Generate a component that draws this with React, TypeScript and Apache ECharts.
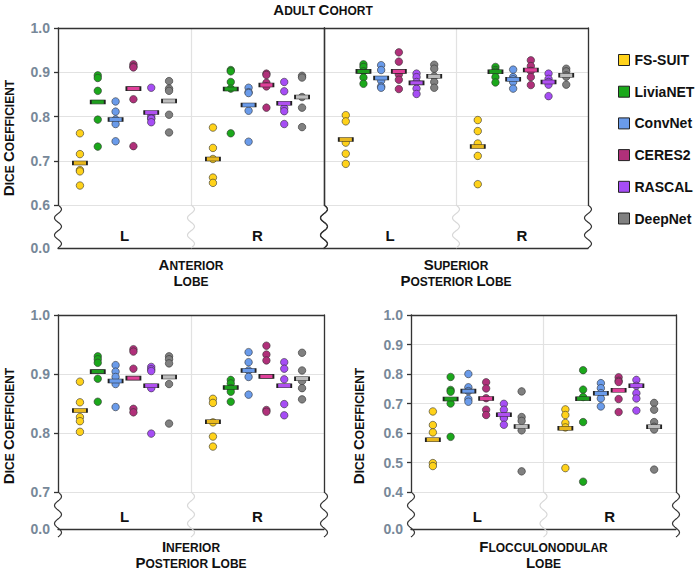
import React, { useEffect, useRef } from 'react';
import * as echarts from 'echarts';

const methods = ['FS-SUIT', 'LiviaNET', 'ConvNet', 'CERES2', 'RASCAL', 'DeepNet'];
const sides = ['L', 'R'];
const pointColors = ['#FFD21A', '#1BA81B', '#6A9BEA', '#B0307A', '#A64DF5', '#808080'];
const meanColors = ['#E8B820', '#1E9E1E', '#6A9BEA', '#E0409A', '#B050F0', '#BDBDBD'];

// Anterior Lobe
const anteriorL = [
  [0.762, 0.715, 0.679, 0.676, 0.644],
  [0.893, 0.887, 0.858, 0.793, 0.732],
  [0.834, 0.811, 0.793, 0.783, 0.744],
  [0.918, 0.913, 0.911, 0.839, 0.733],
  [0.865, 0.802, 0.796, 0.795, 0.787],
  [0.880, 0.863, 0.858, 0.804, 0.764],
];
const anteriorLMean = [0.695, 0.833, 0.793, 0.863, 0.809, 0.835];
const anteriorR = [
  [0.775, 0.729, 0.704, 0.662, 0.650],
  [0.905, 0.902, 0.878, 0.863, 0.762],
  [0.865, 0.855, 0.853, 0.813, 0.743],
  [0.897, 0.894, 0.876, 0.868, 0.820],
  [0.878, 0.857, 0.819, 0.812, 0.783],
  [0.892, 0.888, 0.844, 0.820, 0.776],
];
const anteriorRMean = [0.704, 0.862, 0.826, 0.871, 0.830, 0.844];

// Superior Posterior Lobe
const superiorL = [
  [0.803, 0.789, 0.741, 0.716, 0.693],
  [0.918, 0.912, 0.902, 0.888, 0.874],
  [0.916, 0.905, 0.881, 0.868, 0.865],
  [0.945, 0.924, 0.895, 0.883, 0.862],
  [0.897, 0.889, 0.878, 0.863, 0.851],
  [0.917, 0.908, 0.891, 0.878, 0.865],
];
const superiorLMean = [0.748, 0.902, 0.887, 0.902, 0.876, 0.891];
const superiorR = [
  [0.792, 0.767, 0.739, 0.711, 0.647],
  [0.912, 0.905, 0.901, 0.889, 0.877],
  [0.906, 0.889, 0.884, 0.878, 0.863],
  [0.927, 0.914, 0.903, 0.889, 0.871],
  [0.897, 0.885, 0.878, 0.872, 0.846],
  [0.908, 0.902, 0.893, 0.890, 0.872],
];
const superiorRMean = [0.732, 0.901, 0.884, 0.905, 0.878, 0.893];

// Inferior Posterior Lobe
const inferiorL = [
  [0.887, 0.852, 0.827, 0.820, 0.802],
  [0.930, 0.925, 0.919, 0.892, 0.853],
  [0.915, 0.904, 0.895, 0.883, 0.844],
  [0.942, 0.938, 0.909, 0.841, 0.835],
  [0.912, 0.908, 0.905, 0.876, 0.799],
  [0.930, 0.925, 0.918, 0.883, 0.816],
];
const inferiorLMean = [0.838, 0.904, 0.888, 0.893, 0.880, 0.895];
const inferiorR = [
  [0.858, 0.851, 0.818, 0.794, 0.777],
  [0.890, 0.884, 0.876, 0.870, 0.853],
  [0.937, 0.920, 0.906, 0.895, 0.865],
  [0.948, 0.933, 0.923, 0.839, 0.836],
  [0.920, 0.909, 0.891, 0.849, 0.830],
  [0.936, 0.906, 0.888, 0.876, 0.857],
];
const inferiorRMean = [0.819, 0.877, 0.906, 0.896, 0.880, 0.892];

// Flocculonodular Lobe
const flocL = [
  [0.673, 0.627, 0.602, 0.498, 0.488],
  [0.790, 0.746, 0.740, 0.700, 0.587],
  [0.800, 0.755, 0.742, 0.715, 0.706],
  [0.772, 0.751, 0.718, 0.679, 0.661],
  [0.699, 0.679, 0.654, 0.650, 0.628],
  [0.741, 0.654, 0.641, 0.609, 0.470],
];
const flocLMean = [0.577, 0.715, 0.742, 0.717, 0.662, 0.622];
const flocR = [
  [0.680, 0.661, 0.634, 0.619, 0.481],
  [0.813, 0.747, 0.722, 0.637, 0.435],
  [0.769, 0.752, 0.735, 0.717, 0.690],
  [0.789, 0.777, 0.773, 0.715, 0.671],
  [0.780, 0.760, 0.735, 0.717, 0.676],
  [0.702, 0.679, 0.637, 0.621, 0.612, 0.476],
];
const flocRMean = [0.616, 0.716, 0.735, 0.745, 0.760, 0.621];

const FONT = '"Liberation Sans", Arial, Helvetica, sans-serif';
const DARK = '#333';
const LIGHT = '#e2e2e2';
const TICK_COLOR = '#778899';

const panels = [
  { title: 'Anterior\nLobe', left: 58, right: 324, top: 28, brk: 205, bottom: 248, min: 0.6, showY: true, L: anteriorL, R: anteriorR, mL: anteriorLMean, mR: anteriorRMean },
  { title: 'Superior\nPosterior Lobe', left: 324, right: 588, top: 28, brk: 205, bottom: 248, min: 0.6, showY: false, L: superiorL, R: superiorR, mL: superiorLMean, mR: superiorRMean },
  { title: 'Inferior\nPosterior Lobe', left: 58, right: 324, top: 315, brk: 492, bottom: 537, min: 0.7, showY: true, L: inferiorL, R: inferiorR, mL: inferiorLMean, mR: inferiorRMean },
  { title: 'Flocculonodular\nLobe', left: 411, right: 676, top: 315, brk: 492, bottom: 537, min: 0.4, showY: true, L: flocL, R: flocR, mL: flocLMean, mR: flocRMean },
];

const smallCaps = (t: string) =>
  t
    .split('\n')
    .map((line) =>
      line
        .split(' ')
        .map((w) => `{b|${w[0].toUpperCase()}}{s|${w.slice(1).toUpperCase()}}`)
        .join('{s| }')
    )
    .join('\n');

const rich = {
  b: { fontSize: 15, fontWeight: 'bold', color: '#111', fontFamily: FONT, lineHeight: 16, verticalAlign: 'bottom' },
  s: { fontSize: 12, fontWeight: 'bold', color: '#111', fontFamily: FONT, lineHeight: 16, verticalAlign: 'bottom' },
};

const wave = (x: number, y0: number, y1: number) => {
  const pts: number[][] = [];
  const N = 50;
  for (let j = 0; j <= N; j++) {
    const t = j / N;
    pts.push([x + 3.5 * Math.sin(2 * Math.PI * 2.5 * t), y0 + t * (y1 - y0)]);
  }
  return pts;
};

function buildOption() {
  const grid: any[] = [];
  const xAxis: any[] = [];
  const yAxis: any[] = [];
  const series: any[] = [];
  const graphic: any[] = [];
  const step = 0.134;

  panels.forEach((p, i) => {
    const W = p.right - p.left;
    grid.push({ left: p.left, top: p.top, width: W, height: p.brk - p.top });
    grid.push({ left: p.left, top: p.brk, width: W, height: p.bottom - p.brk });
    grid.push({ left: p.left, top: p.top, width: W, height: p.bottom - p.top });
    const g = i * 3;

    xAxis.push({
      gridIndex: g, type: 'value', min: 0, max: 2, interval: 1, position: 'top',
      axisLine: { show: true, lineStyle: { color: DARK, width: 1.3 } },
      axisTick: { show: false }, axisLabel: { show: false },
      splitLine: { show: true, lineStyle: { color: LIGHT, width: 1.2 } },
    });
    xAxis.push({
      gridIndex: g + 1, type: 'category', data: sides, position: 'bottom',
      axisLine: { show: true, lineStyle: { color: DARK, width: 1.3 } },
      axisTick: { show: false },
      axisLabel: { inside: true, margin: 5, fontSize: 15, fontWeight: 'bold', color: '#111', fontFamily: FONT },
      splitLine: { show: false },
      name: smallCaps(p.title), nameLocation: 'middle', nameGap: i >= 2 ? 9 : 8,
      nameTextStyle: { rich, lineHeight: 16 },
    });
    xAxis.push({ gridIndex: g + 2, type: 'value', show: false });

    yAxis.push({
      gridIndex: g, type: 'value', min: p.min, max: 1, interval: 0.1,
      axisLine: { show: true, lineStyle: { color: DARK, width: 1.3 } },
      axisTick: { show: p.showY, length: 4, lineStyle: { color: DARK, width: 1.3 } },
      axisLabel: { show: p.showY, formatter: (v: number) => v.toFixed(1), color: TICK_COLOR, fontSize: 14, fontWeight: 'bold', fontFamily: FONT, margin: 8 },
      splitLine: { show: true, lineStyle: { color: LIGHT, width: 1.2 } },
    });
    yAxis.push({
      gridIndex: g, type: 'value', position: 'right', min: p.min, max: 1, interval: 0.1,
      axisLine: { show: true, lineStyle: { color: DARK, width: 1.3 } },
      axisTick: { show: false }, axisLabel: { show: false }, splitLine: { show: false },
    });
    yAxis.push({
      gridIndex: g + 1, type: 'value', min: 0, max: 1, interval: 1,
      axisLine: { show: false }, axisTick: { show: false }, splitLine: { show: false },
      axisLabel: { show: p.showY, formatter: (v: number) => (v === 0 ? '0.0' : ''), color: TICK_COLOR, fontSize: 14, fontWeight: 'bold', fontFamily: FONT, margin: 8 },
    });
    yAxis.push({
      gridIndex: g + 2, type: 'value', show: p.showY, min: 0, max: 1,
      axisLine: { show: false }, axisTick: { show: false }, axisLabel: { show: false }, splitLine: { show: false },
      name: p.showY ? smallCaps('Dice Coefficient') : '', nameLocation: 'middle', nameGap: 45,
      nameTextStyle: { rich },
    });

    methods.forEach((m, k) => {
      const off = (k - 2.5) * step;
      const pts: number[][] = [];
      [p.L, p.R].forEach((arr, s) => arr[k].forEach((v) => pts.push([s + 0.5 + off, v])));
      series.push({
        type: 'scatter', name: m, xAxisIndex: g, yAxisIndex: i * 4, data: pts,
        symbol: 'circle', symbolSize: 7.5, z: 3, silent: true,
        itemStyle: { color: pointColors[k], borderColor: '#333', borderWidth: 0.6, opacity: 1 },
      });
      series.push({
        type: 'scatter', name: m + ' mean', xAxisIndex: g, yAxisIndex: i * 4,
        data: [[0.5 + off, p.mL[k]], [1.5 + off, p.mR[k]]],
        symbol: 'rect', symbolSize: [14, 4], z: 4, silent: true,
        itemStyle: { color: meanColors[k], borderColor: '#222', borderWidth: 1, opacity: 1 },
      });
    });

    const mid = (p.left + p.right) / 2;
    [[p.left, DARK], [mid, '#d8d8d8'], [p.right, DARK]].forEach(([x, c]) => {
      graphic.push({
        type: 'polyline', silent: true, z: 10,
        shape: { points: wave(x as number, p.brk, p.bottom), smooth: 0 },
        style: { stroke: c as string, lineWidth: 1.2, fill: null },
      });
    });
  });

  return {
    animation: false,
    backgroundColor: '#fff',
    title: {
      text: smallCaps('Adult Cohort'), left: 323, top: 1, padding: 0, textAlign: 'center',
      textStyle: { rich },
    },
    legend: {
      data: methods, orient: 'vertical', left: 613, top: 48, itemWidth: 11, itemHeight: 11,
      itemGap: 17.7, icon: 'rect', selectedMode: false,
      itemStyle: { borderColor: '#222', borderWidth: 1 },
      textStyle: { fontSize: 14, fontWeight: 'bold', color: '#111', fontFamily: FONT, lineHeight: 14 },
    },
    grid, xAxis, yAxis, series, graphic,
  };
}

export default function App() {
  const ref = useRef<HTMLDivElement>(null);
  useEffect(() => {
    document.body.style.margin = '0';
    if (!ref.current) return;
    const chart = echarts.init(ref.current, null, { renderer: 'svg' });
    chart.setOption(buildOption() as any);
    return () => chart.dispose();
  }, []);
  return <div ref={ref} style={{ position: 'absolute', left: 0, top: 0, width: 697, height: 571 }} />;
}
